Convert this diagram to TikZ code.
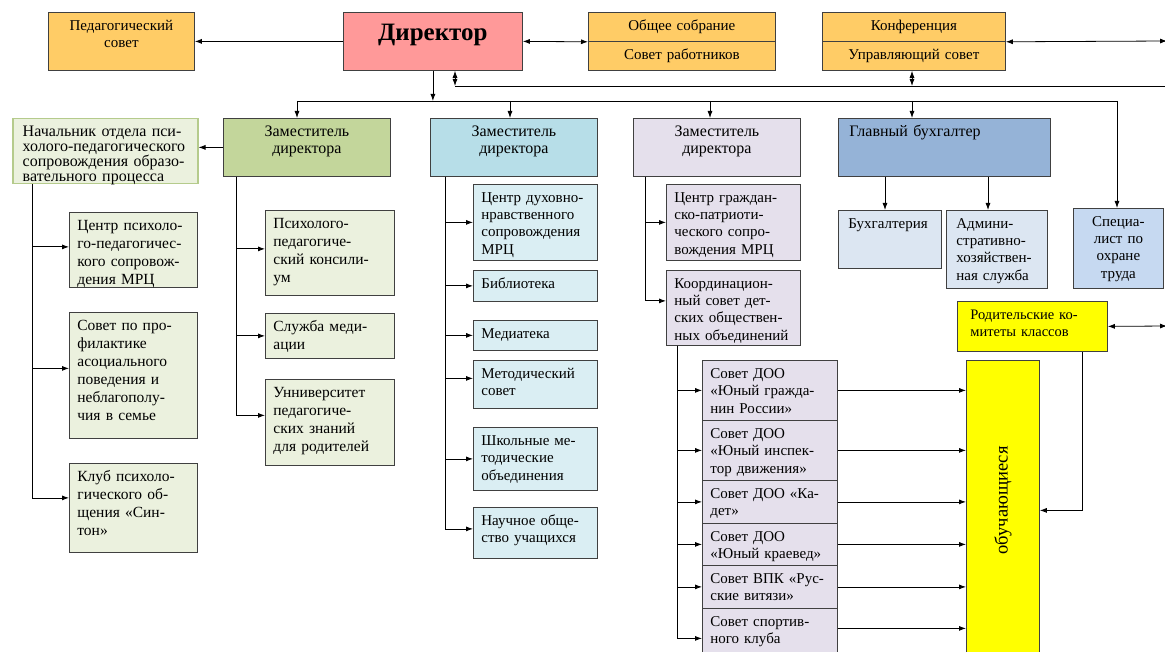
\documentclass[tikz,border=0pt]{standalone}
\usepackage{fontspec}
\setmainfont{Liberation Serif}
\usetikzlibrary{arrows.meta}

\definecolor{orangebox}{HTML}{FFCC66}
\definecolor{pinkbox}{HTML}{FF9999}
\definecolor{olivebox}{HTML}{C3D69B}
\definecolor{greenbox}{HTML}{EBF1DE}
\definecolor{greenline}{HTML}{B5CB8C}
\definecolor{bluebox}{HTML}{B7DEE8}
\definecolor{lightblue}{HTML}{DAEEF3}
\definecolor{lilac}{HTML}{E5E0EC}
\definecolor{steelbox}{HTML}{95B3D7}
\definecolor{paleblue}{HTML}{DCE6F2}
\definecolor{skyblue}{HTML}{C6D9F1}
\definecolor{yellowbox}{HTML}{FFFF00}

\begin{document}
\begin{tikzpicture}[x=1pt, y=-1pt]
  \tikzstyle{box} = [rectangle, draw=black!75, line width=0.8pt, anchor=north west, align=left, inner xsep=8pt, inner ysep=4pt, text height=14pt]
  \tikzstyle{arrow} = [line width=0.8pt, -{Latex[length=7pt, width=5pt]}]
  \tikzstyle{darrow} = [line width=0.8pt, {Latex[length=7pt, width=5pt]}-{Latex[length=7pt, width=5pt]}]
  \tikzstyle{line} = [line width=0.8pt]
  \tikzstyle{large} = [font=\fontsize{15.5}{18}\selectfont]
  \tikzstyle{mid} = [font=\fontsize{15}{17.3}\selectfont]
  \tikzstyle{ttl} = [font=\fontsize{16}{17}\selectfont]

  \useasboundingbox (0,0) rectangle (1165,652);

  \node[box, fill=orangebox, align=center, mid, text width=130pt, text depth=36pt] (pedsov) at (48,12) {Педагогический\\совет};
  \node[box, fill=pinkbox, align=center, text width=163pt, text height=24pt, text depth=26pt, font=\fontsize{25}{28}\selectfont\bfseries] (dir) at (343,12) {Директор};
  \node[box, fill=orangebox, align=center, mid, text width=171pt, text height=11pt, text depth=4pt, minimum height=29pt] (obsh) at (588,12) {Общее собрание};
  \node[box, fill=orangebox, align=center, mid, text width=171pt, text height=11pt, text depth=4pt, minimum height=29pt] (sovrab) at (588,41) {Совет работников};
  \node[box, fill=orangebox, align=center, mid, text width=167pt, text height=11pt, text depth=4pt, minimum height=29pt] (konf) at (822,12) {Конференция};
  \node[box, fill=orangebox, align=center, mid, text width=167pt, text height=11pt, text depth=4pt, minimum height=29pt] (upr) at (822,41) {Управляющий совет};

  \node[box, fill=greenbox, draw=greenline, line width=1.5pt, inner xsep=10pt, font=\fontsize{16}{14.5}\selectfont, text width=165pt, text depth=43pt] (nach) at (12,118) {Начальник отдела  пси-\\холого-педагогического\\сопровождения образо-\\вательного процесса};
  \node[box, fill=olivebox, align=center, ttl, text width=151pt, text depth=36pt] (zam1) at (223,118) {Заместитель\\директора};
  \node[box, fill=bluebox, align=center, ttl, text width=151pt, text depth=36pt] (zam2) at (430,118) {Заместитель\\директора};
  \node[box, fill=lilac, align=center, ttl, text width=151pt, text depth=36pt] (zam3) at (633,118) {Заместитель\\директора};
  \node[box, fill=steelbox, ttl, inner xsep=11pt, text width=190pt, text depth=36pt] (glbuh) at (838,118) {Главный бухгалтер};

  \node[box, fill=greenbox, large, text width=112pt, text depth=53pt] (cppc) at (69,212) {Центр психоло-\\го-педагогичес-\\кого сопровож-\\дения  МРЦ};
  \node[box, fill=greenbox, large, text width=112pt, text depth=104pt] (sovprof) at (69,312) {Совет по про-\\филактике\\асоциального\\поведения и\\неблагополу-\\чия в семье};
  \node[box, fill=greenbox, large, text width=112pt, text depth=67pt] (klub) at (69,463) {Клуб психоло-\\гического об-\\щения «Син-\\тон»};

  \node[box, fill=greenbox, large, text width=113pt, text depth=63pt] (ppk) at (265,210) {Психолого-\\педагогиче-\\ский консили-\\ум};
  \node[box, fill=greenbox, large, text width=113pt, text depth=23pt] (med) at (265,313) {Служба меди-\\ации};
  \node[box, fill=greenbox, large, text width=113pt, text depth=64pt] (univ) at (265,379) {Унниверситет\\педагогиче-\\ских знаний\\для родителей};

  \node[box, fill=lightblue, mid, text width=108pt, text depth=54pt] (cdn) at (473,184) {Центр духовно-\\нравственного\\сопровождения\\МРЦ};
  \node[box, fill=lightblue, mid, text width=108pt, text depth=9pt] (bib) at (473,270) {Библиотека};
  \node[box, fill=lightblue, mid, text width=108pt, text depth=8pt] (mediat) at (473,320) {Медиатека};
  \node[box, fill=lightblue, mid, text width=108pt, text depth=26pt] (metsov) at (473,360) {Методический\\совет};
  \node[box, fill=lightblue, mid, text width=108pt, text depth=41pt] (shmo) at (473,427) {Школьные ме-\\тодические\\объединения};
  \node[box, fill=lightblue, mid, text width=108pt, text depth=29pt] (nou) at (473,507) {Научное обще-\\ство учащихся};

  \node[box, fill=lilac, mid, text width=118pt, text depth=54pt] (cgp) at (666,184) {Центр граждан-\\ско-патриоти-\\ческого сопро-\\вождения   МРЦ};
  \node[box, fill=lilac, mid, text width=118pt, text depth=53pt] (koord) at (666,270) {Координацион-\\ный совет дет-\\ских обществен-\\ных объединений};

  \node[box, fill=lilac, mid, text width=119pt, text depth=38pt] (doo1) at (702,360) {Совет ДОО\\«Юный гражда-\\нин России»};
  \node[box, fill=lilac, mid, text width=119pt, text depth=38pt] (doo2) at (702,420) {Совет ДОО\\«Юный инспек-\\тор движения»};
  \node[box, fill=lilac, mid, text width=119pt, text depth=21pt] (doo3) at (702,480) {Совет ДОО «Ка-\\дет»};
  \node[box, fill=lilac, mid, text width=119pt, text depth=20pt] (doo4) at (702,523) {Совет ДОО\\«Юный краевед»};
  \node[box, fill=lilac, mid, text width=119pt, text depth=21pt] (doo5) at (702,565) {Совет ВПК «Рус-\\ские витязи»};
  \node[box, fill=lilac, mid, text width=119pt, text depth=38pt] (doo6) at (702,608) {Совет спортив-\\ного клуба};

  \node[box, fill=paleblue, mid, inner xsep=10pt, text width=83pt, text depth=36pt] (buh) at (838,210) {Бухгалтерия};
  \node[box, fill=paleblue, mid, inner xsep=10pt, text width=81pt, text depth=56pt] (ahs) at (946,210) {Админи-\\стративно-\\хозяйствен-\\ная служба};
  \node[box, fill=skyblue, mid, align=center, text width=74pt, text depth=58pt] (spec) at (1073,208) {Специа-\\лист по\\охране\\труда};
  \node[box, fill=yellowbox, font=\fontsize{14.5}{17}\selectfont, inner xsep=13pt, text width=124pt, text depth=28pt] (rodk) at (957,301) {Родительские ко-\\митеты классов};
  \node[rectangle, draw=black!75, line width=0.8pt, fill=yellowbox, anchor=north west, minimum width=73pt, minimum height=300pt, font=\fontsize{18.5}{20}\selectfont] (obuch) at (966,360) {\rotatebox{90}{\hspace{20pt}обучающиеся}};

  \coordinate (b1) at (297,101);
  \coordinate (b2) at (510,101);
  \coordinate (b3) at (710,101);
  \coordinate (b4) at (912,101);
  \coordinate (b5) at (1117,101);
  \coordinate (c1) at (455,86);
  \coordinate (c2) at (912,86);
  \coordinate (edge1) at (1167,41);
  \coordinate (edge2) at (1166,86);
  \coordinate (edge3) at (1167,326);

  \draw[arrow] (dir) -- (pedsov);
  \draw[darrow] (dir.east) -- (obsh.south west);
  \draw[darrow] (konf.south east) -- (edge1);
  \draw[arrow] (dir.south) -- (dir.south |- b1);
  \draw[darrow] (c1 |- dir.south) -- (c1);
  \draw[line] (c1) -- (edge2);
  \draw[darrow] (c2 |- upr.south) -- (c2);
  \draw[line] (b1) -- (b5);
  \draw[arrow] (b1) -- (b1 |- zam1.north);
  \draw[arrow] (b2) -- (b2 |- zam2.north);
  \draw[arrow] (b3) -- (b3 |- zam3.north);
  \draw[arrow] (b4) -- (b4 |- glbuh.north);
  \draw[arrow] (b5) -- (b5 |- spec.north);

  \draw[arrow] (zam1.west) -- (zam1.west -| nach.east);
  \draw[arrow] ([xshift=20pt]nach.south west) |- ([yshift=3pt]cppc.west);
  \draw[arrow] ([xshift=20pt]nach.south west) |- ([yshift=7pt]sovprof.west);
  \draw[arrow] ([xshift=20pt]nach.south west) |- ([yshift=10pt]klub.west);

  \draw[arrow] ([xshift=13pt]zam1.south west) |- ([yshift=4pt]ppk.west);
  \draw[arrow] ([xshift=13pt]zam1.south west) |- (med.west);
  \draw[arrow] ([xshift=13pt]zam1.south west) |- ([yshift=7pt]univ.west);

  \draw[arrow] ([xshift=15pt]zam2.south west) |- (cdn.west);
  \draw[arrow] ([xshift=15pt]zam2.south west) |- (bib.west);
  \draw[arrow] ([xshift=15pt]zam2.south west) |- (mediat.west);
  \draw[arrow] ([xshift=15pt]zam2.south west) |- ([yshift=6pt]metsov.west);
  \draw[arrow] ([xshift=15pt]zam2.south west) |- (shmo.west);
  \draw[arrow] ([xshift=15pt]zam2.south west) |- ([yshift=4pt]nou.west);

  \draw[arrow] ([xshift=12pt]zam3.south west) |- (cgp.west);
  \draw[arrow] ([xshift=12pt]zam3.south west) |- ([yshift=7pt]koord.west);

  \draw[arrow] ([xshift=11pt]koord.south west) |- (doo1.west);
  \draw[arrow] ([xshift=11pt]koord.south west) |- (doo2.west);
  \draw[arrow] ([xshift=11pt]koord.south west) |- (doo3.west);
  \draw[arrow] ([xshift=11pt]koord.south west) |- (doo4.west);
  \draw[arrow] ([xshift=11pt]koord.south west) |- (doo5.west);
  \draw[arrow] ([xshift=11pt]koord.south west) |- (doo6.west);

  \draw[arrow] (doo1.east) -- (doo1.east -| obuch.west);
  \draw[arrow] (doo2.east) -- (doo2.east -| obuch.west);
  \draw[arrow] (doo3.east) -- (doo3.east -| obuch.west);
  \draw[arrow] (doo4.east) -- (doo4.east -| obuch.west);
  \draw[arrow] (doo5.east) -- (doo5.east -| obuch.west);
  \draw[arrow] ([yshift=10pt]doo6.east) -- ([yshift=10pt]doo6.east -| obuch.west);

  \draw[arrow] ([xshift=47pt]glbuh.south west) -- ([xshift=47pt]buh.north west);
  \draw[arrow] ([xshift=42pt]ahs.north west |- glbuh.south) -- ([xshift=42pt]ahs.north west);
  \draw[darrow] (edge3) -- (rodk.east);
  \draw[arrow] ([xshift=-25pt]rodk.south east) |- (obuch.east);
\end{tikzpicture}
\end{document}
